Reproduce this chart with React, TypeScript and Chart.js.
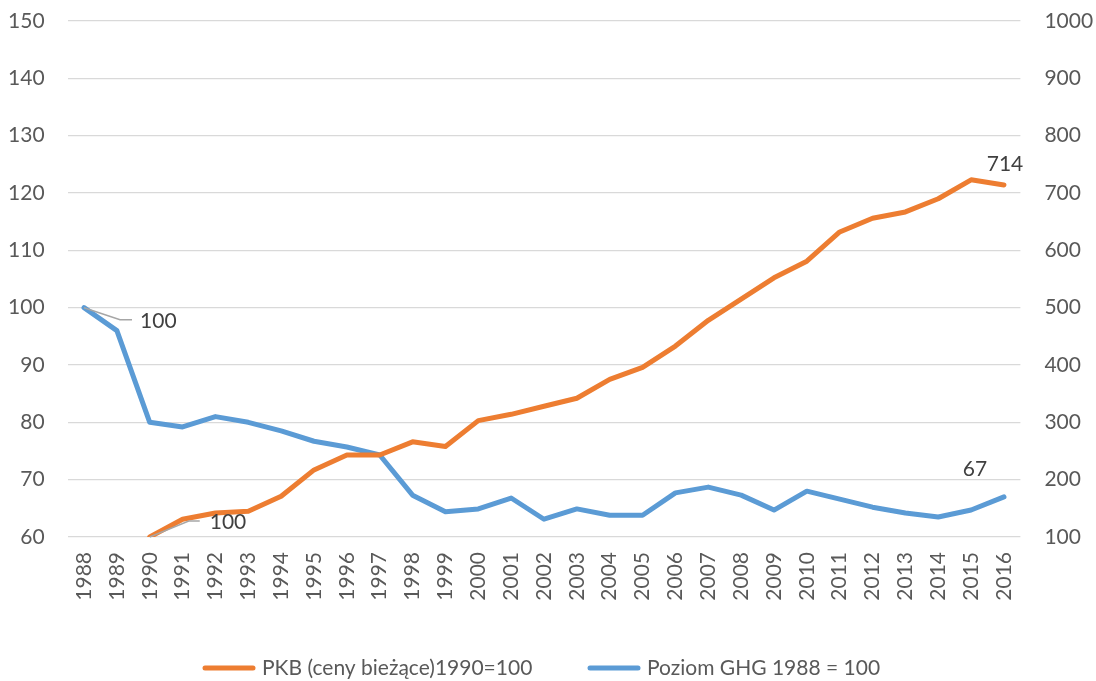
import React, { useEffect, useRef } from 'react';
import { Chart, registerables } from 'chart.js';

Chart.register(...registerables);

const years = ['1988','1989','1990','1991','1992','1993','1994','1995','1996','1997','1998','1999','2000','2001','2002','2003','2004','2005','2006','2007','2008','2009','2010','2011','2012','2013','2014','2015','2016'];
const ghgValues = [100, 96, 80, 79.2, 81, 80, 78.5, 76.7, 75.7, 74.3, 67.3, 64.4, 64.9, 66.8, 63.1, 64.9, 63.8, 63.8, 67.7, 68.7, 67.3, 64.7, 68, 66.6, 65.2, 64.2, 63.5, 64.7, 67];
const pkbValues = [null, null, 100, 131, 142, 145, 171, 217, 243, 243, 266, 258, 303, 314, 328, 342, 375, 396, 433, 478, 515, 552, 581, 632, 656, 667, 690, 723, 714];
const pkbLabel = 'PKB (ceny bieżące)1990=100';
const ghgLabel = 'Poziom GHG 1988 = 100';
const pointLabels = [
  { ds: 1, idx: 0, text: '100' },
  { ds: 0, idx: 2, text: '100' },
  { ds: 0, idx: 28, text: '714' },
  { ds: 1, idx: 28, text: '67' },
];

const ORANGE = '#ED7D31';
const BLUE = '#5B9BD5';
const FONT = 'Lato, "Open Sans", sans-serif';
const FS = 21;

const labelPlugin = {
  id: 'labelPlugin',
  afterDatasetsDraw(chart: any) {
    const ctx = chart.ctx;
    ctx.save();
    ctx.font = `${FS}px ${FONT}`;
    ctx.fillStyle = '#404040';
    ctx.textBaseline = 'middle';
    const offsets = [
      { leader: [[36, 12], [48, 12]], tx: 56, ty: 14, align: 'left' },
      { leader: [[39, -16], [50, -16]], tx: 60, ty: -15, align: 'left' },
      { leader: null, tx: 1, ty: -21, align: 'center' },
      { leader: null, tx: -29, ty: -28, align: 'center' },
    ];
    pointLabels.forEach((pl, i) => {
      const el = chart.getDatasetMeta(pl.ds).data[pl.idx];
      if (!el) return;
      const o: any = offsets[i];
      if (o.leader) {
        ctx.beginPath();
        ctx.strokeStyle = '#A6A6A6';
        ctx.lineWidth = 1.5;
        ctx.moveTo(el.x, el.y);
        o.leader.forEach((p: number[]) => ctx.lineTo(el.x + p[0], el.y + p[1]));
        ctx.stroke();
      }
      ctx.textAlign = o.align;
      ctx.fillText(pl.text, el.x + o.tx, el.y + o.ty);
    });
    // legend
    const items = [
      { color: ORANGE, text: pkbLabel, x: 205 },
      { color: BLUE, text: ghgLabel, x: 590 },
    ];
    const ly = 668;
    items.forEach((it) => {
      ctx.beginPath();
      ctx.strokeStyle = it.color;
      ctx.lineWidth = 5;
      ctx.lineCap = 'round';
      ctx.moveTo(it.x, ly);
      ctx.lineTo(it.x + 48, ly);
      ctx.stroke();
      ctx.fillStyle = '#595959';
      ctx.textAlign = 'left';
      ctx.fillText(it.text, it.x + 57, ly);
    });
    ctx.restore();
  },
};

export default function App() {
  const ref = useRef<HTMLCanvasElement>(null);
  useEffect(() => {
    const chart = new Chart(ref.current!, {
      type: 'line',
      data: {
        labels: years,
        datasets: [
          {
            label: pkbLabel,
            data: pkbValues,
            yAxisID: 'y1',
            borderColor: ORANGE,
            backgroundColor: ORANGE,
            borderWidth: 5,
            pointRadius: 0,
            tension: 0,
            borderJoinStyle: 'round',
            borderCapStyle: 'round',
          },
          {
            label: ghgLabel,
            data: ghgValues,
            yAxisID: 'y',
            borderColor: BLUE,
            backgroundColor: BLUE,
            borderWidth: 5,
            pointRadius: 0,
            tension: 0,
            borderJoinStyle: 'round',
            borderCapStyle: 'round',
          },
        ],
      },
      options: {
        responsive: false,
        animation: false,
        layout: { padding: { top: 21, left: 0, right: 0, bottom: 0 } },
        plugins: { legend: { display: false }, tooltip: { enabled: false } },
        scales: {
          x: {
            offset: true,
            grid: { display: false, drawTicks: false },
            border: { display: false },
            ticks: {
              autoSkip: false,
              minRotation: 90,
              maxRotation: 90,
              padding: 15,
              color: '#595959',
              font: { family: FONT, size: FS },
            },
            afterFit: (s: any) => { s.height = 144; s.paddingLeft = 0; s.paddingRight = 0; },
          },
          y: {
            position: 'left',
            min: 60,
            max: 150,
            ticks: { stepSize: 10, padding: 23, color: '#595959', font: { family: FONT, size: FS }, callback: (v: any) => String(v) },
            grid: { color: '#D9D9D9', lineWidth: 1.3, drawTicks: false },
            border: { display: false },
            afterFit: (s: any) => { s.width = 67.6; s.paddingTop = 0; s.paddingBottom = 0; },
          },
          y1: {
            position: 'right',
            min: 100,
            max: 1000,
            ticks: { stepSize: 100, padding: 24, color: '#595959', font: { family: FONT, size: FS }, callback: (v: any) => String(v) },
            grid: { display: false, drawTicks: false },
            border: { display: false },
            afterFit: (s: any) => { s.width = 75.6; s.paddingTop = 0; s.paddingBottom = 0; },
          },
        },
      },
      plugins: [labelPlugin],
    } as any);
    return () => chart.destroy();
  }, []);
  return (
    <div style={{ position: 'fixed', left: 0, top: 0, width: 1096, height: 681, background: '#fff' }}>
      <canvas ref={ref} width={1096} height={681} style={{ display: 'block' }} />
    </div>
  );
}
